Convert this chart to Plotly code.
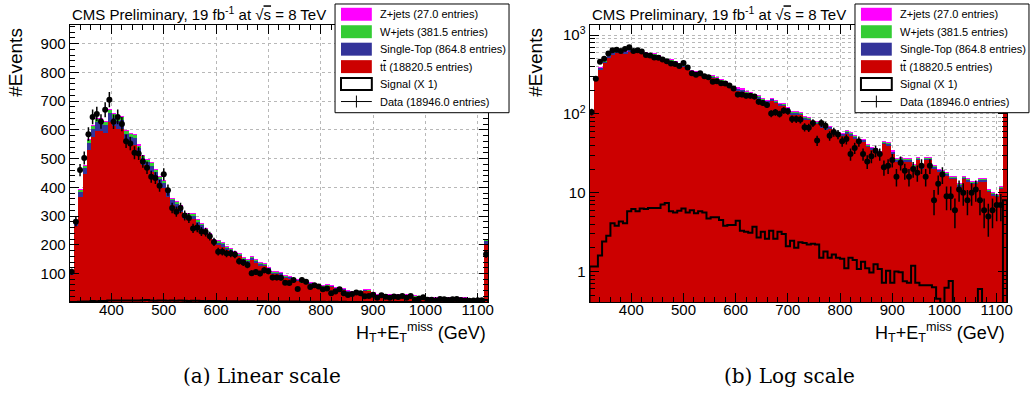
import numpy as np
import plotly.graph_objects as go

# ---------------- data ----------------
bin_low = 320
bin_width = 8
n_bins = 100

ttbar = [98.0, 266.1, 366.8, 445.3, 529.3, 575.1, 597.4, 597.4, 588.1, 627.4,
         613.3, 602.1, 604.0, 557.3, 548.8, 546.1, 511.5, 478.0, 464.9, 453.7,
         432.2, 408.8, 396.8, 366.8, 338.0, 326.7, 315.5, 289.3, 287.4, 289.3,
         269.8, 256.7, 240.8, 224.0, 202.6, 199.8, 194.1, 181.1, 175.4, 165.2,
         159.6, 146.6, 140.0, 148.4, 138.1, 128.8, 127.0, 113.9, 99.9, 99.9,
         98.0, 86.0, 84.0, 72.8, 74.7, 67.3, 64.4, 65.3, 57.9, 54.1,
         53.2, 57.0, 54.1, 49.4, 44.7, 44.7, 38.3, 35.4, 33.6, 30.8,
         42.0, 40.1, 31.7, 25.3, 26.1, 25.3, 25.3, 21.5, 26.1, 20.6,
         26.1, 26.1, 20.6, 18.7, 17.7, 16.8, 15.0, 15.0, 12.1, 15.0,
         14.0, 13.1, 13.1, 14.0, 14.0, 10.3, 9.3, 8.9, 11.3, 200.0]

single_top = [4.7, 12.8, 17.7, 21.5, 25.5, 27.7, 28.8, 28.8, 28.4, 30.2,
              29.6, 29.0, 29.1, 26.9, 26.5, 26.3, 24.7, 23.0, 22.4, 21.9,
              20.8, 19.7, 19.1, 17.7, 16.3, 15.8, 15.2, 14.0, 13.9, 14.0,
              13.0, 12.4, 11.6, 10.8, 9.8, 9.6, 9.4, 8.7, 8.5, 8.0,
              7.7, 7.1, 6.8, 7.2, 6.7, 6.2, 6.1, 5.5, 4.8, 4.8,
              4.7, 4.1, 4.1, 3.5, 3.6, 3.2, 3.1, 3.2, 2.8, 2.6,
              2.6, 2.7, 2.6, 2.4, 2.2, 2.2, 1.8, 1.7, 1.6, 1.5,
              2.0, 1.9, 1.5, 1.2, 1.3, 1.2, 1.2, 1.0, 1.3, 1.0,
              1.3, 1.3, 1.0, 0.9, 0.9, 0.8, 0.7, 0.7, 0.6, 0.7,
              0.7, 0.6, 0.6, 0.7, 0.7, 0.5, 0.5, 0.4, 0.5, 12.0]

wjets = [2.1, 5.7, 7.9, 9.5, 11.3, 12.3, 12.8, 12.8, 12.6, 13.4,
         13.1, 12.9, 12.9, 11.9, 11.8, 11.7, 11.0, 10.2, 10.0, 9.7,
         9.3, 8.8, 8.5, 7.9, 7.2, 7.0, 6.8, 6.2, 6.2, 6.2,
         5.8, 5.5, 5.2, 4.8, 4.3, 4.3, 4.2, 3.9, 3.8, 3.5,
         3.4, 3.1, 3.0, 3.2, 3.0, 2.8, 2.7, 2.4, 2.1, 2.1,
         2.1, 1.8, 1.8, 1.6, 1.6, 1.4, 1.4, 1.4, 1.2, 1.2,
         1.1, 1.2, 1.2, 1.1, 1.0, 1.0, 0.8, 0.8, 0.7, 0.7,
         0.9, 0.9, 0.7, 0.5, 0.6, 0.5, 0.5, 0.5, 0.6, 0.4,
         0.6, 0.6, 0.4, 0.4, 0.4, 0.4, 0.3, 0.3, 0.3, 0.3,
         0.3, 0.3, 0.3, 0.3, 0.3, 0.2, 0.2, 0.2, 0.2, 7.5]

zjets = [0.2, 0.4, 0.6, 0.7, 0.9, 0.9, 1.0, 1.0, 0.9, 1.0,
         1.0, 1.0, 1.0, 0.9, 0.9, 0.9, 0.8, 0.8, 0.7, 0.7,
         0.7, 0.7, 0.6, 0.6, 0.5, 0.5, 0.5, 0.5, 0.5, 0.5,
         0.4, 0.4, 0.4, 0.4, 0.3, 0.3, 0.3, 0.3, 0.3, 0.3,
         0.3, 0.2, 0.2, 0.2, 0.2, 0.2, 0.2, 0.2, 0.2, 0.2,
         0.2, 0.1, 0.1, 0.1, 0.1, 0.1, 0.1, 0.1, 0.1, 0.1,
         0.1, 0.1, 0.1, 0.1, 0.1, 0.1, 0.1, 0.1, 0.1, 0.05,
         0.1, 0.1, 0.1, 0.05, 0.05, 0.05, 0.05, 0.05, 0.05, 0.05,
         0.05, 0.05, 0.05, 0.05, 0.05, 0.05, 0.05, 0.05, 0.05, 0.05,
         0.05, 0.05, 0.05, 0.05, 0.05, 0.05, 0.05, 0.05, 0.05, 0.5]

signal = [1.16, 1.16, 1.6, 2.4, 2.85, 4.1, 3.8, 4.3, 4.1, 5.8,
          6.2, 5.8, 6.3, 6.2, 6.4, 6.4, 6.4, 7.1, 7.4, 5.8,
          5.6, 5.9, 6.3, 5.6, 6.0, 5.5, 5.8, 5.6, 4.7, 4.9,
          4.9, 4.5, 3.8, 3.9, 3.9, 4.4, 3.3, 3.2, 3.1, 3.7,
          2.7, 3.2, 2.6, 3.3, 2.6, 3.2, 3.0, 2.1, 2.45, 2.0,
          2.35, 2.3, 2.2, 2.25, 2.2, 1.5, 1.8, 1.5, 1.65, 1.5,
          1.45, 1.1, 1.5, 1.4, 1.08, 1.33, 1.1, 0.97, 1.24, 1.08,
          0.72, 1.02, 0.72, 1.0, 0.98, 0.75, 0.72, 1.18, 0.72, 0.67,
          0.67, 0.67, 0.63, 0.45, 0.0, 0.62, 0.76, 0.0, 0.0, 0.0,
          0.0, 0.0, 0.0, 0.6, 0.0, 0.0, 0.0, 0.0, 0.0, 8.0]

data = [106, 280, 460, 502, 585, 645, 655, 629, 670, 705,
        628, 645, 620, 560, 552, 520, 518, 490, 468, 437,
        432, 405, 445, 390, 328, 315, 328, 302, 293, 257,
        260, 246, 244, 230, 210, 176, 176, 170, 170, 166,
        143, 138, 130, 101, 105, 100, 111, 108, 86, 86,
        85, 68, 67, 77, 46, 77, 71, 53, 59, 55,
        45, 48, 31, 37, 45, 31, 25, 29, 34, 31,
        21, 22, 26, 16, 24, 19, 16, 20, 18, 22,
        16, 22, 8, 13, 17, 9, 9, 6, 11, 10,
        8, 10, 11, 8, 6, 5, 6, 7, 7, 167]

x_tick_vals = [400, 500, 600, 700, 800, 900, 1000, 1100]
lin_y_ticks = [100, 200, 300, 400, 500, 600, 700, 800, 900]
log_y_ticks = [1, 10, 100, 1000]
log_y_text = ["1", "10", "10<sup>2</sup>", "10<sup>3</sup>"]

legend_labels = ["Z+jets (27.0 entries)", "W+jets (381.5 entries)",
                 "Single-Top (864.8 entries)",
                 "t<span style='text-decoration:overline'>t</span> (18820.5 entries)",
                 "Signal (X 1)", "Data (18946.0 entries)"]
bkg_names = ["ttbar", "Single-Top", "W+jets", "Z+jets"]
bkg_colors = ["#cc0000", "#333399", "#33cc33", "#ff00ff"]
legend_colors = ["#ff00ff", "#33cc33", "#333399", "#cc0000"]

title_text = "CMS Preliminary, 19 fb<sup>-1</sup> at √<span style='text-decoration:overline'>s</span> = 8 TeV"
xtitle_text = "H<sub>T</sub>+E<sub>T</sub><sup>miss</sup> (GeV)"
ytitle_text = "#Events"
captions = ["(a) Linear scale", "(b) Log scale"]

# ---------------- geometry ----------------
W, H = 1031, 394
FONT = "Liberation Sans, Arial, sans-serif"


def px(x):
    return x / W


def py(y):
    return 1 - y / H


centers = bin_low + bin_width * (np.arange(n_bins) + 0.5)
edges = bin_low + bin_width * np.arange(n_bins + 1)
sig = np.array(signal, dtype=float)
dat = np.array(data, dtype=float)
derr = np.sqrt(dat)

fig = go.Figure()
panels = [("x", "y", False), ("x2", "y2", True)]
for xa, ya, is_log in panels:
    for name, vals, col in zip(bkg_names, [ttbar, single_top, wjets, zjets], bkg_colors):
        fig.add_trace(go.Bar(x=centers, y=vals, width=bin_width, name=name,
                             marker=dict(color=col, line=dict(width=0)),
                             xaxis=xa, yaxis=ya, showlegend=False, hoverinfo="skip"))
    s = np.where(sig > 0, sig, 1e-3)
    sx = np.concatenate([[edges[0]], edges, [edges[-1]]])
    sy = np.concatenate([[1e-3], s, [s[-1]], [1e-3]])
    fig.add_trace(go.Scatter(x=sx, y=sy, mode="lines", line=dict(color="black", width=2, shape="hv"),
                             xaxis=xa, yaxis=ya, showlegend=False, hoverinfo="skip"))
    fig.add_trace(go.Scatter(x=centers, y=dat, mode="markers",
                             marker=dict(color="black", size=6),
                             error_y=dict(type="data", array=derr, color="black", thickness=1.5, width=0),
                             xaxis=xa, yaxis=ya, showlegend=False, hoverinfo="skip"))

grid_col = "#b8b8b8"
xaxis_common = dict(range=[320, 1120], tickmode="array", tickvals=x_tick_vals,
                    ticks="inside", ticklen=9, tickwidth=1, tickcolor="black",
                    showline=True, linecolor="black", linewidth=1, mirror="ticks",
                    showgrid=True, gridcolor=grid_col, griddash="dot", gridwidth=1,
                    zeroline=False,
                    minor=dict(tickmode="linear", tick0=320, dtick=20, ticks="inside",
                               ticklen=5, tickcolor="black", showgrid=False),
                    tickfont=dict(family=FONT, size=15, color="black"),
                    ticklabelstandoff=-6)

x1 = dict(xaxis_common, domain=[px(70), px(491)], anchor="y")
x2 = dict(xaxis_common, domain=[px(593), px(1013)], anchor="y2")

y1 = dict(range=[0, 965], tickmode="array", tickvals=lin_y_ticks, domain=[py(302), py(24)],
          anchor="x", ticks="inside", ticklen=9, tickcolor="black", showline=True,
          linecolor="black", linewidth=1, mirror="ticks", showgrid=True, gridcolor=grid_col,
          griddash="dot", zeroline=False,
          minor=dict(tickmode="linear", tick0=0, dtick=20, ticks="inside", ticklen=5,
                     tickcolor="black", showgrid=False),
          tickfont=dict(family=FONT, size=15, color="black"))

y2 = dict(type="log", range=[-0.39, 3.13], tickmode="array", tickvals=log_y_ticks,
          ticktext=log_y_text, domain=[py(302), py(24)], anchor="x2",
          ticks="inside", ticklen=9, tickcolor="black", showline=True, linecolor="black",
          linewidth=1, mirror="ticks", showgrid=True, gridcolor=grid_col, griddash="dot",
          zeroline=False,
          minor=dict(dtick="D1", ticks="inside", ticklen=5, tickcolor="black",
                     showgrid=True, gridcolor=grid_col, griddash="dot"),
          tickfont=dict(family=FONT, size=15, color="black"))

fig.update_layout(width=W, height=H, margin=dict(l=0, r=0, t=0, b=0), autosize=False,
                  paper_bgcolor="white", plot_bgcolor="white", barmode="stack", bargap=0,
                  xaxis=x1, yaxis=y1, xaxis2=x2, yaxis2=y2, showlegend=False)

shapes = []
annotations = []
for k, off in enumerate([0, 523]):
    fl = 70 if k == 0 else 593
    fr = 491 if k == 0 else 1013
    annotations.append(dict(x=px(fl), y=py(13), xref="paper", yref="paper", text=title_text,
                            showarrow=False, xanchor="left", yanchor="middle",
                            font=dict(family=FONT, size=15, color="black")))
    annotations.append(dict(x=px(fl - 54), y=py(61), xref="paper", yref="paper", text=ytitle_text,
                            showarrow=False, textangle=-90, xanchor="center", yanchor="middle",
                            font=dict(family=FONT, size=19, color="black")))
    annotations.append(dict(x=px(fr), y=py(332), xref="paper", yref="paper", text=xtitle_text,
                            showarrow=False, xanchor="right", yanchor="middle",
                            font=dict(family=FONT, size=18, color="black")))
    annotations.append(dict(x=px(264 if k == 0 else 794), y=py(376), xref="paper", yref="paper",
                            text=captions[k], showarrow=False, xanchor="center", yanchor="middle",
                            font=dict(family="DejaVu Serif, serif", size=20, color="black")))
    lx0, lx1 = 337 + off, 512 + off
    shapes.append(dict(type="rect", xref="paper", yref="paper", x0=px(lx0), x1=px(lx1),
                       y0=py(112), y1=py(3), fillcolor="white",
                       line=dict(color="black", width=1), layer="above"))
    for i, lab in enumerate(legend_labels):
        ry = 13.3 + 17.5 * i
        bx0, bx1 = 343 + off, 374 + off
        if i < 4:
            shapes.append(dict(type="rect", xref="paper", yref="paper", x0=px(bx0), x1=px(bx1),
                               y0=py(ry + 6.5), y1=py(ry - 6.5), fillcolor=legend_colors[i],
                               line=dict(width=0), layer="above"))
        elif i == 4:
            shapes.append(dict(type="rect", xref="paper", yref="paper", x0=px(bx0), x1=px(bx1),
                               y0=py(ry + 6), y1=py(ry - 6), fillcolor="white",
                               line=dict(color="black", width=2), layer="above"))
        else:
            shapes.append(dict(type="line", xref="paper", yref="paper", x0=px(bx0), x1=px(bx1),
                               y0=py(ry), y1=py(ry), line=dict(color="black", width=1), layer="above"))
            shapes.append(dict(type="line", xref="paper", yref="paper", x0=px((bx0 + bx1) / 2),
                               x1=px((bx0 + bx1) / 2), y0=py(ry - 6), y1=py(ry + 6),
                               line=dict(color="black", width=1), layer="above"))
        annotations.append(dict(x=px(380.7 + off), y=py(ry), xref="paper", yref="paper", text=lab,
                                showarrow=False, xanchor="left", yanchor="middle",
                                font=dict(family=FONT, size=11, color="black")))

fig.update_layout(shapes=shapes, annotations=annotations)
fig.write_html("out.html", config={"displayModeBar": False},
               post_script="document.body.style.margin='0px';document.body.style.padding='0px';")
